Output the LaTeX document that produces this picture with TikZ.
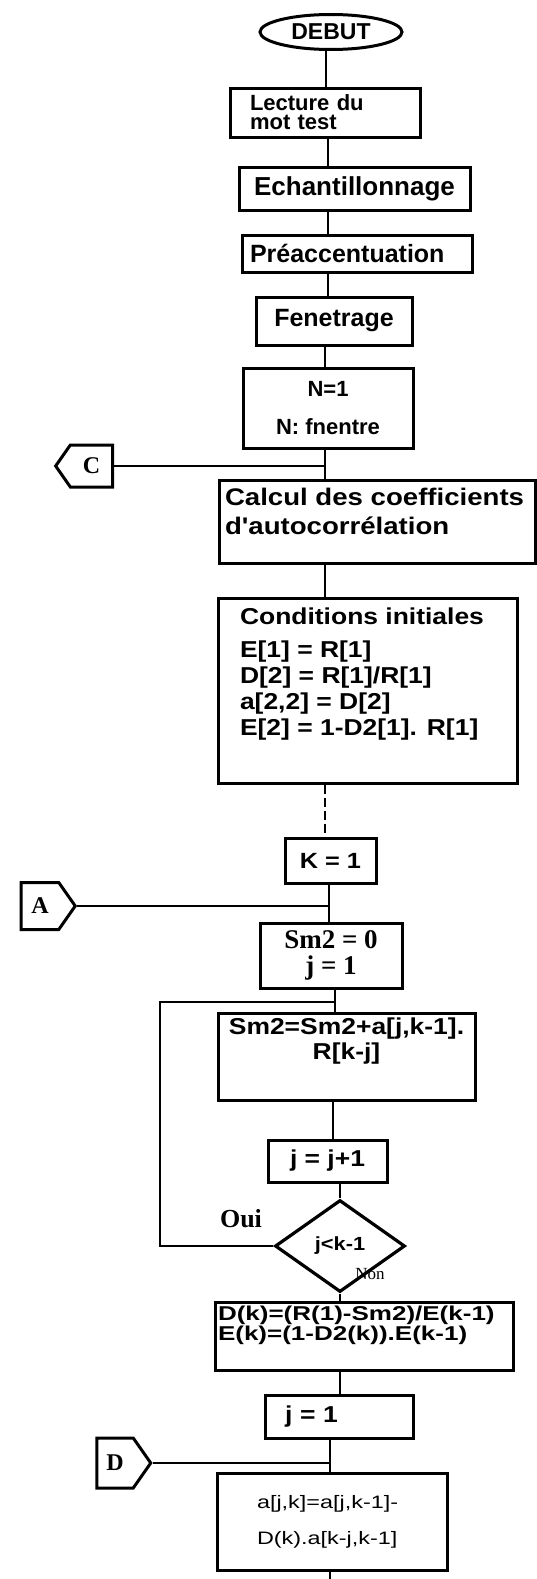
\documentclass[tikz,border=0pt]{standalone}
\usepackage{fontspec}
\setmainfont{Liberation Sans}
\newfontfamily\wide[FakeStretch=1.15]{Liberation Sans}
\newfontfamily\wider[FakeStretch=1.3]{Liberation Sans}
\newfontfamily\serf{Liberation Serif}
\usetikzlibrary{shapes.geometric,shapes.symbols}
\begin{document}
\begin{tikzpicture}[x=1pt,y=-1pt,
  box/.style={draw, rectangle, line width=3pt, inner sep=0pt},
  conn/.style={line width=2.6pt},
  offpage/.style={draw, signal, line width=3pt, inner sep=0pt, signal pointer angle=110,
     font=\serf\bfseries\fontsize{24}{24}\selectfont},
  lab/.style={inner sep=0pt}]
\useasboundingbox (0,0) rectangle (537,1579);
% spine x-positions
\coordinate (s1) at (326,0);
\coordinate (s2) at (328,0);
\coordinate (s3) at (325,0);
\coordinate (s5) at (335,0);
\coordinate (s6) at (333,0);
\coordinate (s8) at (340,0);

\node[draw, ellipse, line width=3pt, minimum width=142pt, minimum height=35pt, inner sep=0pt,
  font=\fontsize{23}{23}\selectfont\bfseries] (debut) at (331,32) {DEBUT};

\node[box, minimum width=190pt, minimum height=49pt, text width=150pt, inner xsep=20pt, align=left,
  font=\fontsize{22}{19}\selectfont\bfseries] (lecture) at (325,112.5) {Lecture du\\mot test};

\node[box, minimum width=231pt, minimum height=43pt,
  font=\fontsize{26}{26}\selectfont\bfseries] (echant) at (354.5,188.5) {Echantillonnage};

\node[box, minimum width=230pt, minimum height=37pt, text width=214pt, inner xsep=8pt, align=left,
  font=\fontsize{25}{25}\selectfont\bfseries] (preacc) at (357,253.5) {Préaccentuation};

\node[box, minimum width=156pt, minimum height=48pt,
  font=\fontsize{25}{25}\selectfont\bfseries] (fen) at (334,321) {Fenetrage};

\node[box, minimum width=170pt, minimum height=80pt, align=center,
  font=\fontsize{22}{38}\selectfont\bfseries] (N1) at (328,408) {N=1\\N: fnentre};

\node[offpage, signal to=west, minimum width=57pt, minimum height=42pt] (cconn) at (91.5,466) {C};

\node[box, inner xsep=6pt, inner ysep=8pt, font=\wide\bfseries\fontsize{24}{29}\selectfont]
  (calcul) at (377,521.5)
  {\parbox[c][67pt][t]{304pt}{\raggedright Calcul des coefficients\\d'autocorrélation}};

\node[box, inner xsep=22pt, inner ysep=10pt, font=\wide\bfseries\fontsize{23}{26}\selectfont]
  (cond) at (367.5,690.5)
  {\parbox[c][165pt][t]{255pt}{\raggedright Conditions initiales\\[7pt]
   E[1] = R[1]\\ D[2] = R[1]/R[1]\\ a[2,2] = D[2]\\ E[2] = 1-D2[1]. R[1]}};

\node[box, minimum width=91pt, minimum height=45pt,
  font=\wide\bfseries\fontsize{22}{22}\selectfont] (K1) at (330.5,860.5) {K = 1};

\node[offpage, signal to=east, minimum width=54pt, minimum height=47pt] (A) at (40,906) {A};

\node[box, minimum width=142pt, minimum height=65pt, align=center,
  font=\serf\bfseries\fontsize{27}{26}\selectfont] (sm2) at (331,955.5) {Sm2 = 0\\j = 1};

\node[box, inner xsep=4pt, inner ysep=5pt, font=\wide\bfseries\fontsize{23}{25}\selectfont]
  (upd) at (346.5,1056.5)
  {\parbox[c][77pt][t]{249pt}{\centering Sm2=Sm2+a[j,k-1].\\R[k-j]}};

\node[box, minimum width=119pt, minimum height=42pt,
  font=\wide\bfseries\fontsize{23}{23}\selectfont] (jj1) at (327.5,1161) {j = j+1};

\node[draw, diamond, aspect=1.41, line width=3.2pt, minimum width=130pt, minimum height=92pt, inner sep=0pt,
  font=\wide\bfseries\fontsize{19}{19}\selectfont] (dia) at (340,1246) {j<k-1};

\node[lab, font=\serf\bfseries\fontsize{26}{26}\selectfont] (oui) at (241,1219) {Oui};
\node[lab, font=\serf\fontsize{17}{17}\selectfont] (non) at (370,1274) {Non};

\node[box, inner xsep=3pt, inner ysep=4pt, font=\wider\bfseries\fontsize{20}{17}\selectfont]
  (ck) at (364,1336)
  {\parbox[c][60pt][t]{292pt}{\raggedright D(k)=(R(1)-Sm2)/E(k-1)\\E(k)=(1-D2(k)).E(k-1)}};

\node[box, minimum width=148pt, minimum height=43pt, text width=108pt, inner xsep=20pt, align=left,
  font=\wide\bfseries\fontsize{23}{23}\selectfont] (j1) at (339,1416.5) {j = 1};

\node[offpage, signal to=east, minimum width=54pt, minimum height=50pt] (D) at (115,1463) {D};

\node[box, minimum width=230pt, minimum height=97pt, text width=150pt, inner xsep=40pt, align=left,
  font=\wider\fontsize{18}{36}\selectfont] (ajk) at (332,1521.5) {a[j,k]=a[j,k-1]-\\D(k).a[k-j,k-1]};

% junctions
\coordinate (cj) at (325,466);
\coordinate (aj) at (329,906);
\coordinate (lp) at (335,1002);
\coordinate (lc) at (160,1002);
\coordinate (dj) at (330,1463);
\coordinate (tail) at (330,1579);

% connectors
\draw[conn] (debut.south -| s1) -- (lecture.north -| s1);
\draw[conn] (lecture.south -| s2) -- (echant.north -| s2);
\draw[conn] (echant.south -| s2) -- (preacc.north -| s2);
\draw[conn] (preacc.south -| s2) -- (fen.north -| s2);
\draw[conn] (fen.south -| s3) -- (N1.north -| s3);
\draw[conn] (N1.south -| cj) -- (calcul.north -| cj);
\draw[conn] (cconn.east) -- (cj);
\draw[conn] (calcul.south -| s3) -- (cond.north -| s3);
\draw[conn, dash pattern=on 9pt off 4pt] (cond.south -| s3) -- (K1.north -| s3);
\draw[conn] (K1.south -| aj) -- (sm2.north -| aj);
\draw[conn] (A.east) -- (aj);
\draw[conn] (sm2.south -| lp) -- (upd.north -| lp);
\draw[conn] (dia.west) -| (lc) -- (lp);
\draw[conn] (upd.south -| s6) -- (jj1.north -| s6);
\draw[conn] (jj1.south -| dia.north) -- (dia.north);
\draw[conn] (dia.south) -- (dia.south |- ck.north);
\draw[conn] (ck.south -| s8) -- (j1.north -| s8);
\draw[conn] (j1.south -| dj) -- (ajk.north -| dj);
\draw[conn] (D.east) -- (dj);
\draw[conn] (ajk.south -| tail) -- (tail);
\end{tikzpicture}
\end{document}
